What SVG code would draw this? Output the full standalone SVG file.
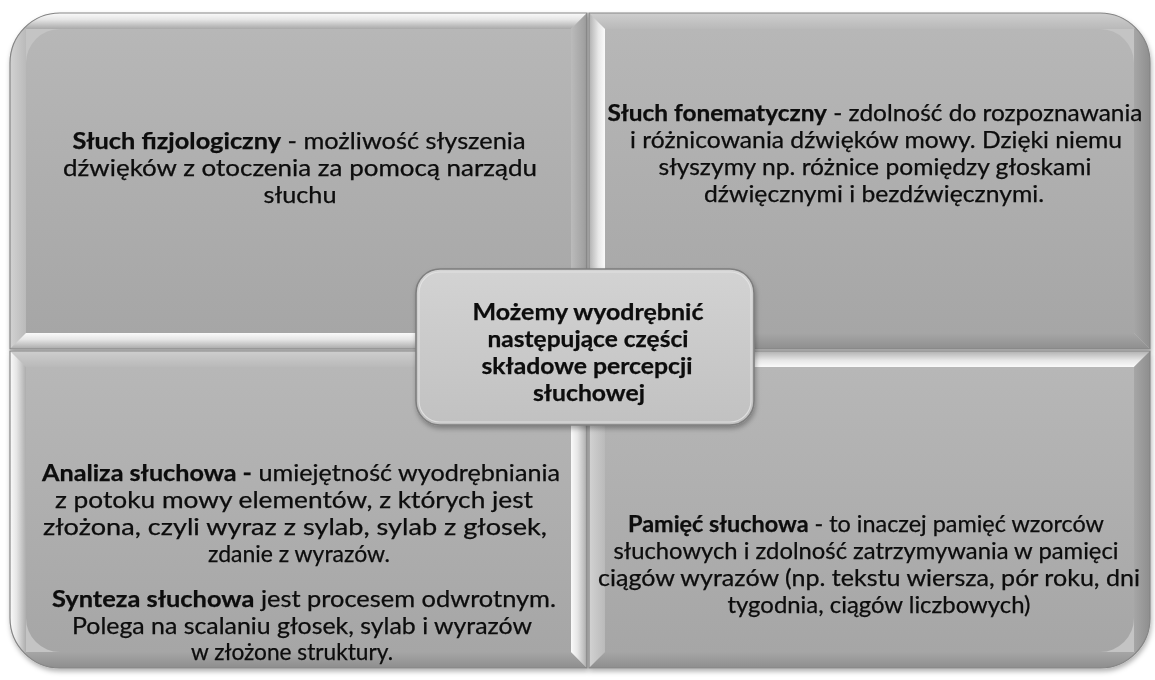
<svg xmlns="http://www.w3.org/2000/svg" width="1155" height="680" viewBox="0 0 1155 680">
<defs>
<style>
.t{font-family:Lato,"Open Sans","DejaVu Sans",sans-serif;font-size:23px;fill:#0a0a0a;stroke:#0a0a0a;stroke-width:0.25;text-anchor:middle}
.b{font-weight:bold}
.edge{fill:none;stroke:#858585;stroke-width:1.2}
</style>
<linearGradient id="gFill" x1="0" y1="0" x2="0" y2="1"><stop offset="0" stop-color="#b7b7b7"/><stop offset="1" stop-color="#a6a6a6"/></linearGradient>
<linearGradient id="vWG" x1="0" y1="0" x2="0" y2="1"><stop offset="0" stop-color="#fafafa"/><stop offset="0.4" stop-color="#e6e6e6"/><stop offset="1" stop-color="#a9a9a9"/></linearGradient>
<linearGradient id="vGW" x1="0" y1="0" x2="0" y2="1"><stop offset="0" stop-color="#b0b0b0"/><stop offset="0.6" stop-color="#e8e8e8"/><stop offset="1" stop-color="#fafafa"/></linearGradient>
<linearGradient id="hWG" x1="0" y1="0" x2="1" y2="0"><stop offset="0" stop-color="#fafafa"/><stop offset="0.4" stop-color="#e6e6e6"/><stop offset="1" stop-color="#adadad"/></linearGradient>
<linearGradient id="hGW" x1="0" y1="0" x2="1" y2="0"><stop offset="0" stop-color="#b0b0b0"/><stop offset="0.6" stop-color="#e8e8e8"/><stop offset="1" stop-color="#fafafa"/></linearGradient>
<linearGradient id="vLt" x1="0" y1="0" x2="0" y2="1"><stop offset="0" stop-color="#cecece"/><stop offset="1" stop-color="#b9b9b9"/></linearGradient>
<linearGradient id="hLt" x1="0" y1="0" x2="1" y2="0"><stop offset="0" stop-color="#d2d2d2"/><stop offset="1" stop-color="#bababa"/></linearGradient>
<linearGradient id="vDk" x1="0" y1="0" x2="0" y2="1"><stop offset="0" stop-color="#a6a6a6"/><stop offset="1" stop-color="#8e8e8e"/></linearGradient>
<linearGradient id="hDk" x1="0" y1="0" x2="1" y2="0"><stop offset="0" stop-color="#a6a6a6"/><stop offset="1" stop-color="#8e8e8e"/></linearGradient>
<linearGradient id="hMid" x1="0" y1="0" x2="1" y2="0"><stop offset="0" stop-color="#bbbbbb"/><stop offset="1" stop-color="#9c9c9c"/></linearGradient>
<linearGradient id="gCenter" x1="0" y1="0" x2="0" y2="1"><stop offset="0" stop-color="#d3d3d3"/><stop offset="1" stop-color="#c1c1c1"/></linearGradient>
<filter id="sh" x="-5%" y="-5%" width="110%" height="115%"><feDropShadow dx="1" dy="3" stdDeviation="2.5" flood-color="#000" flood-opacity="0.3"/></filter>
<clipPath id="cTL"><path d="M10,63 A50,50 0 0 1 60,13 H587 V349 H10 Z"/></clipPath>
<clipPath id="cTR"><path d="M589,13 H1100 A50,50 0 0 1 1150,63 V349 H589 Z"/></clipPath>
<clipPath id="cBL"><path d="M10,351 H587 V668 H60 A50,50 0 0 1 10,618 Z"/></clipPath>
<clipPath id="cBR"><path d="M589,351 H1150 V618 A50,50 0 0 1 1100,668 H589 Z"/></clipPath>
</defs>
<rect width="1155" height="680" fill="#ffffff"/>

<g id="quadrant-tl" filter="url(#sh)">
<g clip-path="url(#cTL)">
<rect x="10" y="13" width="577" height="336" fill="#c4c4c4"/>
<polygon points="10,13 587,13 571,29 26,29" fill="url(#vWG)"/>
<polygon points="10,13 26,29 26,333 10,349" fill="url(#hLt)"/>
<polygon points="10,349 26,333 571,333 587,349" fill="url(#vWG)"/>
<polygon points="587,13 587,349 571,333 571,29" fill="url(#hMid)"/>
</g>
<path d="M26,63 A34,34 0 0 1 60,29 H571 V333 H26 Z" fill="url(#gFill)"/>
<path class="edge" d="M10,63 A50,50 0 0 1 60,13 H587 V349 H10 Z"/>
<text class="t" y="149"><tspan x="299" textLength="453" lengthAdjust="spacingAndGlyphs"><tspan class="b">Słuch fizjologiczny</tspan> - możliwość słyszenia</tspan></text>
<text class="t" x="300" y="176" textLength="474" lengthAdjust="spacingAndGlyphs">dźwięków z otoczenia za pomocą narządu</text>
<text class="t" x="300" y="203" textLength="73" lengthAdjust="spacingAndGlyphs">słuchu</text>
</g>

<g id="quadrant-tr" filter="url(#sh)">
<g clip-path="url(#cTR)">
<rect x="589" y="13" width="561" height="336" fill="#c4c4c4"/>
<polygon points="589,13 1150,13 1134,29 605,29" fill="url(#vLt)"/>
<polygon points="589,13 605,29 605,333 589,349" fill="url(#hGW)"/>
<polygon points="589,349 605,333 1134,333 1150,349" fill="url(#vDk)"/>
<polygon points="1150,13 1150,349 1134,333 1134,29" fill="url(#hDk)"/>
</g>
<path d="M605,29 H1100 A34,34 0 0 1 1134,63 V333 H605 Z" fill="url(#gFill)"/>
<path class="edge" d="M589,13 H1100 A50,50 0 0 1 1150,63 V349 H589 Z"/>
<text class="t" y="121"><tspan x="875" textLength="535" lengthAdjust="spacingAndGlyphs"><tspan class="b">Słuch fonematyczny</tspan> - zdolność do rozpoznawania</tspan></text>
<text class="t" x="876" y="148" textLength="492" lengthAdjust="spacingAndGlyphs">i różnicowania dźwięków mowy. Dzięki niemu</text>
<text class="t" x="875" y="175" textLength="433" lengthAdjust="spacingAndGlyphs">słyszymy np. różnice pomiędzy głoskami</text>
<text class="t" x="874" y="202" textLength="340" lengthAdjust="spacingAndGlyphs">dźwięcznymi i bezdźwięcznymi.</text>
</g>

<g id="quadrant-bl" filter="url(#sh)">
<g clip-path="url(#cBL)">
<rect x="10" y="351" width="577" height="317" fill="#c4c4c4"/>
<polygon points="10,351 587,351 571,367 26,367" fill="url(#vLt)"/>
<polygon points="10,351 26,367 26,652 10,668" fill="url(#hWG)"/>
<polygon points="10,668 26,652 571,652 587,668" fill="url(#vDk)"/>
<polygon points="587,351 587,668 571,652 571,367" fill="url(#hWG)"/>
</g>
<path d="M26,367 H571 V652 H60 A34,34 0 0 1 26,618 Z" fill="url(#gFill)"/>
<path class="edge" d="M10,351 H587 V668 H60 A50,50 0 0 1 10,618 Z"/>
<text class="t" y="481"><tspan x="301" textLength="518" lengthAdjust="spacingAndGlyphs"><tspan class="b">Analiza słuchowa -</tspan> umiejętność wyodrębniania</tspan></text>
<text class="t" x="294" y="508" textLength="478" lengthAdjust="spacingAndGlyphs">z potoku mowy elementów, z których jest</text>
<text class="t" x="295" y="535" textLength="504" lengthAdjust="spacingAndGlyphs">złożona, czyli wyraz z sylab, sylab z głosek,</text>
<text class="t" x="299" y="562" textLength="182" lengthAdjust="spacingAndGlyphs">zdanie z wyrazów.</text>
<text class="t" y="607"><tspan x="304" textLength="504" lengthAdjust="spacingAndGlyphs"><tspan class="b">Synteza słuchowa</tspan> jest procesem odwrotnym.</tspan></text>
<text class="t" x="302" y="634" textLength="460" lengthAdjust="spacingAndGlyphs">Polega na scalaniu głosek, sylab i wyrazów</text>
<text class="t" x="292" y="660" textLength="202" lengthAdjust="spacingAndGlyphs">w złożone struktury.</text>
</g>

<g id="quadrant-br" filter="url(#sh)">
<g clip-path="url(#cBR)">
<rect x="589" y="351" width="561" height="317" fill="#c4c4c4"/>
<polygon points="589,351 1150,351 1134,367 605,367" fill="url(#vGW)"/>
<polygon points="589,351 605,367 605,652 589,668" fill="url(#hLt)"/>
<polygon points="589,668 605,652 1134,652 1150,668" fill="url(#vDk)"/>
<polygon points="1150,351 1150,668 1134,652 1134,367" fill="url(#hDk)"/>
</g>
<path d="M605,367 H1134 V618 A34,34 0 0 1 1100,652 H605 Z" fill="url(#gFill)"/>
<path class="edge" d="M589,351 H1150 V618 A50,50 0 0 1 1100,668 H589 Z"/>
<text class="t" y="532"><tspan x="866" textLength="476" lengthAdjust="spacingAndGlyphs"><tspan class="b">Pamięć słuchowa</tspan> - to inaczej pamięć wzorców</tspan></text>
<text class="t" x="866" y="559" textLength="505" lengthAdjust="spacingAndGlyphs">słuchowych i zdolność zatrzymywania w pamięci</text>
<text class="t" x="869" y="586" textLength="542" lengthAdjust="spacingAndGlyphs">ciągów wyrazów (np. tekstu wiersza, pór roku, dni</text>
<text class="t" x="879" y="613" textLength="303" lengthAdjust="spacingAndGlyphs">tygodnia, ciągów liczbowych)</text>
</g>

<g id="center" filter="url(#sh)">
<rect x="416" y="269" width="338" height="156" rx="24" fill="url(#gCenter)" stroke="#7e7e7e" stroke-width="1.6"/>
<rect x="419" y="272" width="332" height="150" rx="21" fill="none" stroke="#e6e6e6" stroke-width="1.2" opacity="0.8"/>
<text class="t b" x="588" y="320" textLength="231" lengthAdjust="spacingAndGlyphs">Możemy wyodrębnić</text>
<text class="t b" x="588" y="347" textLength="201" lengthAdjust="spacingAndGlyphs">następujące części</text>
<text class="t b" x="587" y="374" textLength="211" lengthAdjust="spacingAndGlyphs">składowe percepcji</text>
<text class="t b" x="589" y="401" textLength="112" lengthAdjust="spacingAndGlyphs">słuchowej</text>
</g>
</svg>
